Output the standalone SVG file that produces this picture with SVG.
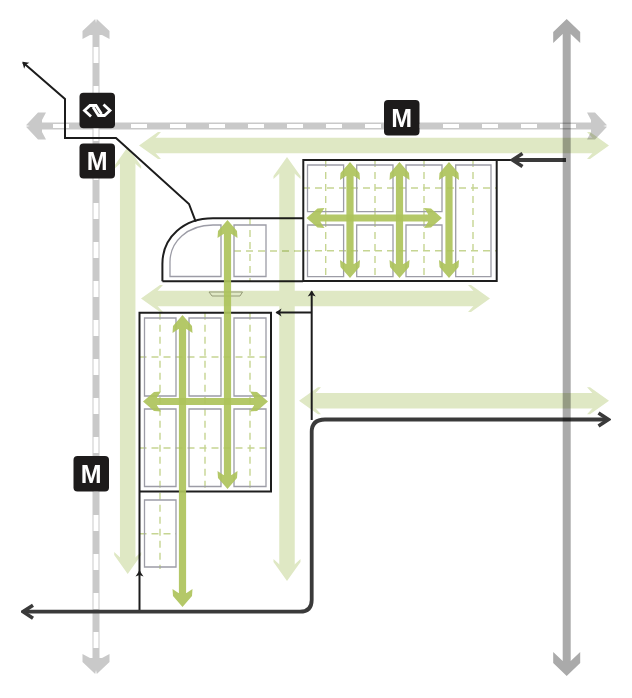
<svg xmlns="http://www.w3.org/2000/svg" width="632" height="698" viewBox="0 0 632 698">
<style>
.wall{fill:none;stroke:#1e1e1e;stroke-width:2}
.cell{fill:none;stroke:#9c9ca6;stroke-width:1.3}
.grid{fill:none;stroke:#c6d592;stroke-width:1.4;stroke-dasharray:7 5}
.road{fill:none;stroke:#c9c9c9;stroke-width:7}
.dash{fill:none;stroke:#fff;stroke-dasharray:16 23}
.pale{fill:none;stroke:#dfe8c4;stroke-width:15.5;marker-start:url(#hp);marker-end:url(#hp)}
.green{fill:none;stroke:#aec45c;stroke-width:7.2;opacity:.92;marker-start:url(#hg);marker-end:url(#hg)}
.thin{fill:none;stroke:#1c1c1c;stroke-width:2;marker-end:url(#ht)}
.thick{fill:none;stroke:#3a3a3a;stroke-width:3.8;marker-end:url(#hd)}
.badge{fill:#1d1b1b}
.m{font-family:"Liberation Sans",Arial,sans-serif;font-weight:700;font-size:25px;fill:#fff;text-anchor:middle}
</style>
<defs>
<marker id="hp" markerUnits="userSpaceOnUse" markerWidth="24" markerHeight="30" viewBox="0 0 24 30" refX="7" refY="15" orient="auto-start-reverse"><path d="M0 1.5H3L22 15L3 28.500H0L6 22V8Z" fill="#dfe8c4"/></marker>
<marker id="hg" markerUnits="userSpaceOnUse" markerWidth="20" markerHeight="22" viewBox="0 0 20 22" refX="6" refY="11" orient="auto-start-reverse"><path d="M0 1L7 1.500L18 11L7 20.500L0 21L4 15V7Z" fill="#aec45c"/></marker>
<marker id="hr" markerUnits="userSpaceOnUse" markerWidth="22" markerHeight="28" viewBox="0 0 22 28" refX="6" refY="14" orient="auto-start-reverse"><path d="M0 .5H8L20 13.200L16 14L20 14.800L8 27.500H0L4 20V8Z" fill="#c9c9c9"/></marker>
<marker id="hk" markerUnits="userSpaceOnUse" markerWidth="26" markerHeight="28" viewBox="0 0 26 28" refX="9" refY="14" orient="auto-start-reverse"><path d="M0 .5H11L24 14L11 27.500H0L9 18V10Z" fill="#aaa"/></marker>
<marker id="hd" markerUnits="userSpaceOnUse" markerWidth="14" markerHeight="18" viewBox="0 0 14 18" refX="11" refY="9" orient="auto"><path d="M1.500 2.500L11.500 9L1.500 15.500" fill="none" stroke="#3a3a3a" stroke-width="3.6"/></marker>
<marker id="ht" markerUnits="userSpaceOnUse" markerWidth="8" markerHeight="10" viewBox="0 0 8 10" refX="6" refY="5" orient="auto"><path d="M1 1L7 5L1 9L2.500 5Z" fill="#1c1c1c"/></marker>
</defs>
<rect width="632" height="698" fill="#fff"/>
<g id="building-station">
<path class="grid" d="M250 218V281M234 251H303"/>
<path class="wall" d="M162.400 281.300V264C162.400 237 184 218.300 213 218.300H303M162.400 281.300H303"/>
<path class="cell" d="M170 276.500V262C170 242 187 225 213 225H221V276.500ZM234 225H266V276.500H234Z"/>
<path d="M209 292H242.500L240 296H212Z" fill="none" stroke="#a9a99a" stroke-width="1"/>
</g>
<g id="building-east">
<path class="grid" d="M325.700 160V281M375 160V281M424 160V281M473 160V281M303 188H497M303 250.700H497"/>
<path class="cell" d="M307.500 165H343.600V211.700H307.500ZM356.700 165H393V211.700H356.700ZM406 165H442V211.700H406ZM455.700 165H491V276.700H455.700ZM307.500 225H343.600V276.700H307.500ZM356.700 225H393V276.700H356.700ZM406 225H442V276.700H406Z"/>
<path class="wall" d="M303.300 160H496.700V281H303.300ZM496.700 160H514"/>
</g>
<g id="building-south">
<path class="grid" d="M160 312.700V569M205 312.700V491M250 312.700V491M139.500 357H271M139.500 448H271M139.500 533.700H176"/>
<path class="cell" d="M144.500 318H176V396H144.500ZM189 318H221V396H189ZM234 318H266V396H234ZM144.500 409H176V486.500H144.500ZM189 409H221V486.500H189ZM234 409H266V486.500H234ZM144.500 500H176V567H144.500Z"/>
<path class="wall" d="M139.500 312.700H271V491.500H139.500ZM139.500 491.500V572"/>
</g>
<g id="connectors">
<g id="metro-lines">
<path class="road" d="M96 33V660" marker-start="url(#hr)" marker-end="url(#hr)"/>
<path class="road" d="M40 126H593" marker-start="url(#hr)" marker-end="url(#hr)"/>
<path class="dash" stroke-width="5" d="M96 47V648"/>
<path class="dash" stroke-width="4" d="M53 126H580"/>
</g>
<g id="pedestrian-routes" style="mix-blend-mode:multiply">
<path class="pale" d="M154 145.500H594"/>
<path class="pale" d="M127.700 162V559"/>
<path class="pale" d="M287 172V566"/>
<path class="pale" d="M156 298.500H475"/>
<path class="pale" d="M314 400.800H594"/>
</g>
<g id="inner-routes">
<path class="green" d="M350 174V266"/>
<path class="green" d="M399.500 174V266"/>
<path class="green" d="M449 174V266"/>
<path class="green" d="M318.500 218H430"/>
<path class="green" d="M182.500 327V595"/>
<path class="green" d="M227.500 232V477"/>
<path class="green" d="M155 401.500H256"/>
</g>
<g id="access-lines">
<path class="thin" d="M195.700 221.700L189 204L116 138H65V99L23 62.500"/>
<path class="thin" d="M311.700 420V291.500"/>
<path class="thin" d="M311.700 312.500H276.500"/>
<path class="thin" d="M139.500 611.700V571.500"/>
<path class="thick" d="M566 160H513"/>
<path class="thick" d="M311.700 432Q311.700 419.500 325 419.500H608"/>
<path class="thick" d="M311.700 432V600Q311.700 611.700 300 611.700H23.500"/>
</g>
<path id="highway" d="M566.700 34V661" fill="none" stroke="#aaa" stroke-width="8" marker-start="url(#hk)" marker-end="url(#hk)" style="mix-blend-mode:multiply"/>
</g>
<g id="station-ns">
<rect class="badge" x="79.500" y="92.700" width="35.500" height="35.500" rx="4"/>
<path d="M91 116.500L84.500 110.500L90 105.500H96L101.500 114M103.500 104.500L110 110.500L104.500 115.500H98.500L93 107" fill="none" stroke="#fff" stroke-width="2.800"/>
</g>
<g id="metro-station-a">
<rect class="badge" x="79.500" y="143.500" width="35.500" height="35" rx="4"/>
<text class="m" x="97.200" y="170">M</text>
</g>
<g id="metro-station-b">
<rect class="badge" x="384" y="100" width="35.500" height="35.500" rx="4"/>
<text class="m" x="401.700" y="127">M</text>
</g>
<g id="metro-station-c">
<rect class="badge" x="73.500" y="456" width="35.500" height="35.500" rx="4"/>
<text class="m" x="91.200" y="483">M</text>
</g>
</svg>
